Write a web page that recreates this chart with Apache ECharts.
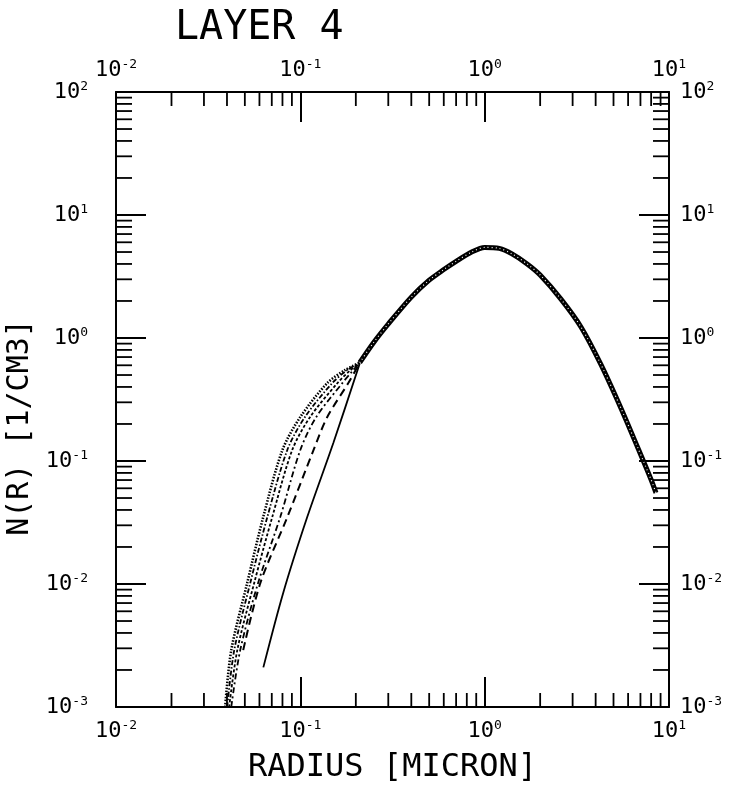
<!DOCTYPE html>
<html><head><meta charset="utf-8">
<script src="https://cdn.jsdelivr.net/npm/echarts@6/dist/echarts.min.js"></script>
<style>html,body{margin:0;padding:0;background:#fff}#c{width:736px;height:789px}</style>
</head><body><div id="c"></div>
<script>
const titleText = 'LAYER 4';
const xAxisName = 'RADIUS [MICRON]';
const yAxisName = 'N(R) [1/CM3]';
const xMin = 0.01, xMax = 10, yMin = 0.001, yMax = 100;
const minorMantissas = [2, 3, 4, 5, 6, 7, 8, 9];
const xDecades = [0.01, 0.1, 1];
const yDecades = [0.001, 0.01, 0.1, 1, 10];

// common branch where all curves coincide
const commonR = [0.21, 0.25, 0.3, 0.4, 0.5, 0.6, 0.7, 0.85, 1.0, 1.2, 1.4, 1.7, 2.0, 2.6, 3.33, 4.27, 5.48, 6.79, 7.98, 8.5];
const commonN = [0.63, 0.92, 1.3, 2.15, 2.95, 3.6, 4.2, 5.0, 5.45, 5.35, 4.85, 4.0, 3.25, 2.06, 1.23, 0.61, 0.27, 0.127, 0.071, 0.055];

// left branches (small radii), each ending at the knot
const c1R = [0.0391, 0.0422, 0.0515, 0.0629, 0.080, 0.100, 0.140, 0.175, 0.21];
const c1N = [0.001, 0.0029, 0.0102, 0.035, 0.123, 0.228, 0.43, 0.55, 0.63];
const c2R = [0.0401, 0.0438, 0.0535, 0.0662, 0.085, 0.106, 0.149, 0.18, 0.21];
const c2N = [0.001, 0.0029, 0.0102, 0.035, 0.123, 0.228, 0.43, 0.55, 0.63];
const c3R = [0.0411, 0.0455, 0.0562, 0.0704, 0.0904, 0.113, 0.159, 0.185, 0.21];
const c3N = [0.001, 0.0029, 0.0102, 0.035, 0.123, 0.228, 0.43, 0.54, 0.63];
const c4R = [0.0422, 0.0472, 0.059, 0.0778, 0.100, 0.122, 0.169, 0.19, 0.21];
const c4N = [0.001, 0.0029, 0.0102, 0.035, 0.123, 0.228, 0.43, 0.53, 0.63];
const c5R = [0.049, 0.0607, 0.085, 0.118, 0.14, 0.182, 0.21];
const c5N = [0.0029, 0.0102, 0.035, 0.123, 0.228, 0.43, 0.63];
const c6R = [0.063, 0.0808, 0.109, 0.151, 0.21];
const c6N = [0.0021, 0.0085, 0.035, 0.14, 0.62];

const FONT = 'DejaVu Sans Mono';
const chart = echarts.init(document.getElementById('c'));

function fmt(v) { const e = Math.round(Math.log10(v)); return '{b|10}{e|' + e + '}'; }
const rich = {
  b: { fontSize: 22, fontFamily: FONT, color: '#000', lineHeight: 24 },
  e: { fontSize: 13, fontFamily: FONT, color: '#000', lineHeight: 24, verticalAlign: 'top' }
};
const axisLine = { show: true, lineStyle: { color: '#000', width: 2 } };
const majorTick = { show: true, inside: true, length: 30, lineStyle: { color: '#000', width: 2 } };

function pairs(R, N) { return R.map((r, i) => [r, N[i]]); }

const minorData = [];
xDecades.forEach(d => minorMantissas.forEach(m => { minorData.push([m * d, yMin, 0]); minorData.push([m * d, yMax, 1]); }));
yDecades.forEach(d => minorMantissas.forEach(m => { minorData.push([xMin, m * d, 2]); minorData.push([xMax, m * d, 3]); }));

function curve(R, N, type, width) {
  return { type: 'line', data: pairs(R, N), showSymbol: false, smooth: 0.3, silent: true,
    lineStyle: { color: '#000', width: width, type: type }, z: 3 };
}

chart.setOption({
  animation: false,
  backgroundColor: '#fff',
  title: { text: titleText, left: 170, top: 4,
    textStyle: { fontFamily: FONT, fontSize: 40, fontWeight: 'normal', color: '#000' } },
  grid: { left: 116, right: 67, top: 92, bottom: 82, containLabel: false, outerBoundsMode: 'none' },
  xAxis: [
    { type: 'log', logBase: 10, min: xMin, max: xMax, position: 'bottom',
      axisLine, axisTick: majorTick, splitLine: { show: false },
      axisLabel: { formatter: fmt, rich, margin: 12 },
      name: xAxisName, nameLocation: 'middle', nameGap: 45,
      nameTextStyle: { fontFamily: FONT, fontSize: 32, color: '#000' } },
    { type: 'log', logBase: 10, min: xMin, max: xMax, position: 'top',
      axisLine, axisTick: majorTick, splitLine: { show: false },
      axisLabel: { formatter: fmt, rich, margin: 10 } }
  ],
  yAxis: [
    { type: 'log', logBase: 10, min: yMin, max: yMax, position: 'left',
      axisLine, axisTick: majorTick, splitLine: { show: false },
      axisLabel: { formatter: fmt, rich, margin: 28 },
      name: yAxisName, nameLocation: 'middle', nameGap: 74,
      nameTextStyle: { fontFamily: FONT, fontSize: 30, color: '#000', padding: [0, 56, 0, 0] } },
    { type: 'log', logBase: 10, min: yMin, max: yMax, position: 'right',
      axisLine, axisTick: majorTick, splitLine: { show: false },
      axisLabel: { formatter: fmt, rich, margin: 11 } }
  ],
  series: [
    { type: 'custom', data: minorData, silent: true, z: 2,
      renderItem: (params, api) => {
        const p = api.coord([api.value(0), api.value(1)]);
        const side = api.value(2);
        const L = [14, 14, 16, 16][side];
        let x2 = p[0], y2 = p[1];
        if (side === 0) y2 -= L; else if (side === 1) y2 += L; else if (side === 2) x2 += L; else x2 -= L;
        return { type: 'line', shape: { x1: p[0], y1: p[1], x2: x2, y2: y2 }, style: { stroke: '#000', lineWidth: 1.8 } };
      } },
    curve(c1R, c1N, [1.5, 1.5], 2.6),
    curve(c2R, c2N, [5, 2, 1.5, 2], 1.8),
    curve(c3R, c3N, [3, 2], 1.8),
    curve(c4R, c4N, [6, 3, 2, 3], 1.8),
    curve(c5R, c5N, [8, 5], 2),
    curve(c6R, c6N, 'solid', 1.8),
    { type: 'line', data: pairs(commonR, commonN), showSymbol: false, smooth: 0.3, silent: true,
      lineStyle: { color: '#000', width: 5 }, z: 3 },
    { type: 'line', data: pairs(commonR, commonN), showSymbol: false, smooth: 0.3, silent: true,
      lineStyle: { color: '#fff', width: 1.2, type: [1, 3] }, z: 4 }
  ]
});
</script></body></html>
